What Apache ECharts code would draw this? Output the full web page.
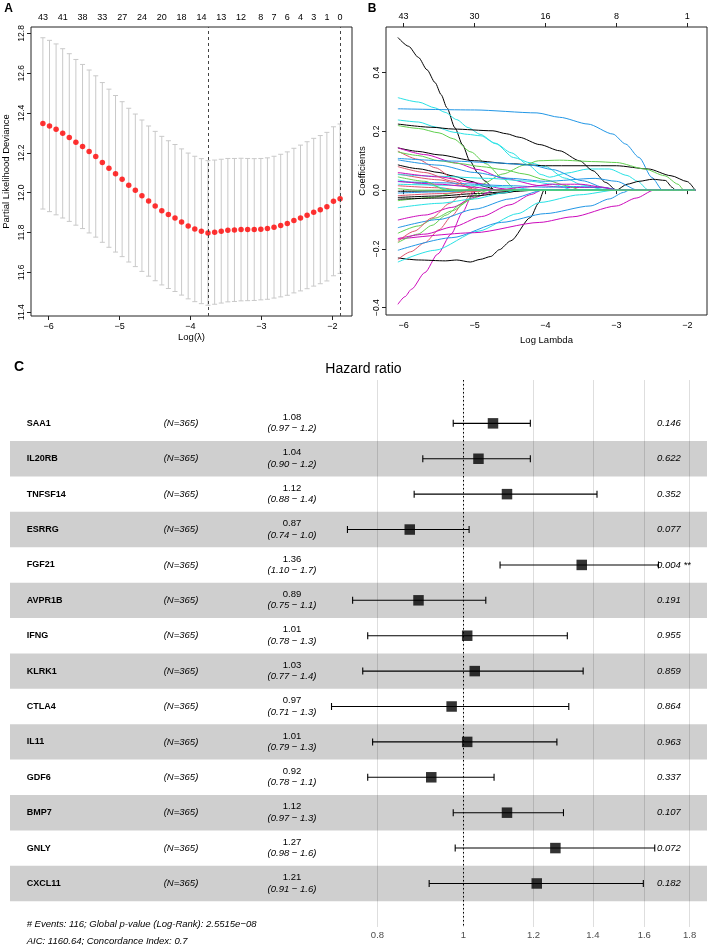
<!DOCTYPE html>
<html><head><meta charset="utf-8">
<script src="https://cdn.jsdelivr.net/npm/echarts@6/dist/echarts.min.js"></script>
<style>html,body{margin:0;padding:0;background:#fff}#c{width:709px;height:945px}</style>
</head><body><div id="c"></div><script>
// ---------- Panel A: cross-validation curve ----------
const cvLogLambda = [-6.080,-5.987,-5.894,-5.801,-5.708,-5.615,-5.521,-5.428,-5.335,-5.242,-5.149,-5.056,-4.963,-4.870,-4.777,-4.684,-4.590,-4.497,-4.404,-4.311,-4.218,-4.125,-4.032,-3.939,-3.846,-3.753,-3.659,-3.566,-3.473,-3.380,-3.287,-3.194,-3.101,-3.008,-2.915,-2.822,-2.728,-2.635,-2.542,-2.449,-2.356,-2.263,-2.170,-2.077,-1.984,-1.891];
const cvMean = [12.348,12.335,12.318,12.298,12.277,12.253,12.232,12.207,12.182,12.152,12.123,12.095,12.068,12.038,12.012,11.985,11.958,11.933,11.910,11.890,11.873,11.853,11.833,11.818,11.807,11.798,11.802,11.807,11.812,11.813,11.815,11.815,11.815,11.817,11.820,11.827,11.835,11.845,11.860,11.873,11.887,11.902,11.915,11.930,11.957,11.970];
const cvSE = [0.430,0.430,0.429,0.425,0.421,0.416,0.412,0.409,0.405,0.401,0.397,0.393,0.389,0.386,0.383,0.380,0.377,0.375,0.373,0.371,0.369,0.367,0.366,0.365,0.364,0.363,0.362,0.361,0.360,0.359,0.358,0.357,0.356,0.355,0.355,0.356,0.358,0.360,0.363,0.366,0.369,0.371,0.372,0.373,0.374,0.375];
const cvTopIdx = [0,3,6,9,12,15,18,21,24,27,30,33,35,37,39,41,43,45];
const cvTopLabels = ['43','41','38','33','27','24','20','18','14','13','12','8','7','6','4','3','1','0'];
const lambdaMinLog = -3.753;
const lambda1seLog = -1.891;
const aYTicks = [11.4,11.6,11.8,12.0,12.2,12.4,12.6,12.8];
const xTicksAB = [-6,-5,-4,-3,-2];

// ---------- Panel B: coefficient paths ----------
const bTopLabels = ['43','30','16','8','1'];
const bYTicks = [-0.4,-0.2,0,0.2,0.4];
const K='#000000',R='#DF536B',G='#61D04F',BL='#2297E6',CY='#28E2E5',M='#CD0BBC';
const coefColors = [K,CY,BL,CY,K,K,G,K,K,G,K, M,R,G,BL,BL,R,CY,M,BL,CY,R,R, M,K,CY,R,BL,M,M,G,G,M,BL,R,R,K,CY,G,BL,M,CY,G];
const coefPaths = [
 [[-6.08,.52],[-5.93,.49],[-5.79,.452],[-5.67,.41],[-5.555,.366],[-5.47,.325],[-5.39,.281],[-5.275,.212],[-5.17,.155],[-5.065,.099],[-4.95,.058],[-4.854,.031],[-4.714,0]],
 [[-6.08,.315],[-5.79,.30],[-5.555,.28],[-5.415,.265],[-5.25,.24],[-5.09,.213],[-4.92,.19],[-4.71,.16],[-4.48,.127],[-4.25,.087],[-4.06,.053],[-3.94,.044],[-3.7,.058],[-3.4,.072],[-3.1,.072],[-2.85,.05],[-2.7,.03],[-2.55,0]],
 [[-6.08,.277],[-5.0,.273],[-4.12,.263],[-3.8,.248],[-3.4,.225],[-3.05,.191],[-2.87,.157],[-2.68,.111],[-2.5,.043],[-2.35,0]],
 [[-6.08,.239],[-5.79,.232],[-5.55,.215],[-5.29,.197],[-5.1,.19],[-4.91,.185],[-4.7,.158],[-4.45,.111],[-4.2,.092],[-4.0,.08],[-3.73,.041],[-3.47,.017],[-3.2,.003],[-3.0,0]],
 [[-6.08,.225],[-5.6,.214],[-5.3,.208],[-4.74,.202],[-4.55,.192],[-4.37,.18],[-4.08,.155],[-3.8,.134],[-3.52,.10],[-3.33,.066],[-3.15,.026],[-3.0,0]],
 [[-6.08,-.004],[-5.0,-.002],[-4.7,0],[-3.0,0],[-2.85,.02],[-2.68,.03],[-2.49,.037],[-2.31,.033],[-2.21,.009],[-2.17,0]],
 [[-6.08,.22],[-5.79,.21],[-5.5,.195],[-5.3,.175],[-5.05,.13],[-4.84,.09],[-4.6,.04],[-4.45,.008],[-4.4,0]],
 [[-6.08,.144],[-5.8,.132],[-5.5,.12],[-5.0,.10],[-4.5,.09],[-4.0,.083],[-3.0,.083],[-2.55,.072],[-2.23,.049],[-2.0,.029],[-1.891,0]],
 [[-6.08,.086],[-5.8,.073],[-5.5,.06],[-5.3,.048],[-5.05,.03],[-4.85,.012],[-4.69,0]],
 [[-6.08,-.036],[-5.6,-.025],[-5.2,-.005],[-4.9,.02],[-4.6,.055],[-4.3,.085],[-4.1,.1],[-3.8,.102],[-3.3,.097],[-3.0,.094],[-2.6,.072],[-2.32,.049],[-2.13,.02],[-2.05,0]],
 [[-6.08,-.025],[-5.5,-.02],[-5.0,-.012],[-4.5,-.005],[-4.1,0]],
 [[-6.08,.144],[-5.7,.121],[-5.27,.093],[-4.95,.07],[-4.59,.04],[-4.07,.015],[-3.7,.009],[-3.19,.009],[-2.95,0]],
 [[-6.08,.133],[-5.8,.105],[-5.55,.076],[-5.3,.04],[-5.13,.019],[-5.0,0]],
 [[-6.08,.13],[-5.8,.118],[-5.5,.1],[-5.2,.09],[-4.9,.08],[-4.6,.07],[-4.3,.055],[-4.0,.035],[-3.7,.015],[-3.5,0]],
 [[-6.08,.108],[-5.32,.099],[-4.71,.093],[-4.2,.085],[-3.9,.07],[-3.48,.032],[-3.15,.007],[-3.0,0]],
 [[-6.08,.103],[-5.5,.085],[-5.0,.06],[-4.5,.04],[-4.0,.03],[-3.3,.04],[-3.0,.03],[-2.7,0]],
 [[-6.08,.055],[-5.5,.035],[-5.1,.012],[-4.9,0]],
 [[-6.08,.053],[-5.5,.047],[-4.8,.04],[-4.2,.03],[-3.9,.02],[-3.6,0]],
 [[-6.08,.06],[-5.5,.045],[-5.0,.025],[-4.6,.005],[-4.5,0]],
 [[-6.08,.029],[-5.5,.025],[-4.5,.015],[-4.0,.01],[-3.6,.012],[-3.2,.01],[-2.95,0]],
 [[-6.08,.02],[-5.0,.015],[-4.5,.01],[-4.1,0]],
 [[-6.08,.015],[-5.5,.008],[-5.2,0]],
 [[-6.08,.08],[-5.7,.06],[-5.3,.03],[-5.0,0]],
 [[-6.08,-.389],[-5.98,-.363],[-5.89,-.338],[-5.7,-.281],[-5.52,-.218],[-5.33,-.15],[-5.17,-.076],[-5.03,-.014],[-4.98,0]],
 [[-6.08,-.231],[-5.79,-.238],[-5.41,-.241],[-5.25,-.238],[-5.06,-.245],[-4.92,-.236],[-4.77,-.226],[-4.65,-.203],[-4.49,-.173],[-4.21,-.093],[-4.1,-.045],[-4.02,0]],
 [[-6.08,-.245],[-5.56,-.205],[-4.95,-.14],[-4.39,-.08],[-4.08,-.042],[-3.52,-.016],[-3.0,0]],
 [[-6.08,-.236],[-5.9,-.21],[-5.7,-.179],[-5.5,-.135],[-5.32,-.088],[-5.15,-.04],[-5.04,-.008],[-4.98,0]],
 [[-6.08,-.205],[-5.32,-.162],[-4.62,-.11],[-4.0,-.08],[-3.37,-.054],[-3.1,-.03],[-2.9,-.008],[-2.82,0]],
 [[-6.08,-.167],[-5.0,-.145],[-4.08,-.11],[-3.62,-.091],[-3.0,-.054],[-2.72,-.027],[-2.47,0]],
 [[-6.08,-.102],[-5.7,-.085],[-5.32,-.059],[-5.0,-.025],[-4.71,0]],
 [[-6.08,-.147],[-5.79,-.122],[-5.55,-.095],[-5.32,-.071],[-5.04,-.031],[-4.85,-.003],[-4.8,0]],
 [[-6.08,-.179],[-5.8,-.15],[-5.6,-.12],[-5.4,-.085],[-5.2,-.05],[-5.0,-.018],[-4.9,0]],
 [[-6.08,-.165],[-5.7,-.15],[-5.3,-.125],[-4.9,-.09],[-4.5,-.05],[-4.2,-.015],[-4.05,0]],
 [[-6.08,-.128],[-5.5,-.1],[-5.0,-.065],[-4.5,-.03],[-4.02,0]],
 [[-6.08,-.019],[-5.5,-.012],[-5.0,-.005],[-4.8,0]],
 [[-6.08,-.175],[-5.85,-.14],[-5.6,-.095],[-5.35,-.045],[-5.15,-.008],[-5.1,0]],
 [[-6.08,-.031],[-5.5,-.027],[-5.0,-.02],[-4.6,-.01],[-4.3,0]],
 [[-6.08,.035],[-5.7,.02],[-5.3,0]],
 [[-6.08,.005],[-5.8,0]],
 [[-6.08,-.01],[-5.5,-.006],[-5.0,0]],
 [[-6.08,.03],[-5.5,.02],[-5.0,.01],[-4.7,0],[-4.3,.01],[-3.9,.02],[-3.5,.02],[-3.2,.01],[-3.0,0]],
 [[-6.08,-.06],[-5.5,-.045],[-5.0,-.03],[-4.6,-.01],[-4.4,0]],
 [[-6.08,.045],[-5.7,.03],[-5.4,0]]
];

// ---------- Panel C: forest plot ----------
const genes = ['SAA1','IL20RB','TNFSF14','ESRRG','FGF21','AVPR1B','IFNG','KLRK1','CTLA4','IL11','GDF6','BMP7','GNLY','CXCL11'];
const nText = ['(N=365)','(N=365)','(N=365)','(N=365)','(N=365)','(N=365)','(N=365)','(N=365)','(N=365)','(N=365)','(N=365)','(N=365)','(N=365)','(N=365)'];
const hr = [1.08,1.04,1.12,0.87,1.36,0.89,1.01,1.03,0.97,1.01,0.92,1.12,1.27,1.21];
const hrLow = [0.974,0.90,0.88,0.74,1.10,0.75,0.78,0.77,0.71,0.79,0.78,0.974,0.979,0.915];
const hrHigh = [1.19,1.19,1.415,1.015,1.66,1.06,1.31,1.365,1.315,1.275,1.083,1.297,1.644,1.596];
const hrText = ['1.08','1.04','1.12','0.87','1.36','0.89','1.01','1.03','0.97','1.01','0.92','1.12','1.27','1.21'];
const ciText = ['(0.97 − 1.2)','(0.90 − 1.2)','(0.88 − 1.4)','(0.74 − 1.0)','(1.10 − 1.7)','(0.75 − 1.1)','(0.78 − 1.3)','(0.77 − 1.4)','(0.71 − 1.3)','(0.79 − 1.3)','(0.78 − 1.1)','(0.97 − 1.3)','(0.98 − 1.6)','(0.91 − 1.6)'];
const pText = ['0.146','0.622','0.352','0.077','0.004 **','0.191','0.955','0.859','0.864','0.963','0.337','0.107','0.072','0.182'];
const hrTicks = [0.8,1,1.2,1.4,1.6,1.8];
const footer1 = '# Events: 116; Global p-value (Log-Rank): 2.5515e\u221208';
const footer2 = 'AIC: 1160.64; Concordance Index: 0.7';

// ---------- layout / style ----------
const FONT = 'Liberation Sans, Arial, Helvetica, sans-serif';
const COL = {name: 26.7, n: 181, hr: 292, p: 657};
const minus = v => (v < 0 ? '\u2212' : '') + Math.abs(v);
const fmt1 = v => (v < 0 ? '\u2212' : '') + Math.abs(v).toFixed(1);
const ln = Math.log;

const chart = echarts.init(document.getElementById('c'), null, {renderer: 'canvas'});

const axisTxt = {fontSize: 9, color: '#000', fontFamily: FONT};
const nameTxt = {fontSize: 9.5, color: '#000', fontFamily: FONT};
const tickLine = {color: '#222', width: 1};

const bottomAxis = (grid, name, gap) => ({
  type: 'value', gridIndex: grid, min: -6.2476, max: -1.723, position: 'bottom',
  axisLine: {show: false},
  axisTick: {show: true, length: 4, customValues: xTicksAB, lineStyle: tickLine},
  axisLabel: Object.assign({customValues: xTicksAB, margin: 6, formatter: v => minus(v)}, axisTxt),
  splitLine: {show: false},
  name: name, nameLocation: 'middle', nameGap: gap, nameTextStyle: nameTxt
});

const xAxes = [
  bottomAxis(0, 'Log(\u03BB)', 16),
  { type: 'value', gridIndex: 0, min: -6.2476, max: -1.723, position: 'top',
    axisLine: {show: false}, axisTick: {show: false},
    axisLabel: Object.assign({customValues: cvTopIdx.map(i => cvLogLambda[i]), margin: 5,
      formatter: v => { const j = cvTopIdx.findIndex(i => Math.abs(cvLogLambda[i] - v) < 1e-6); return j >= 0 ? cvTopLabels[j] : ''; }}, axisTxt),
    splitLine: {show: false} },
  bottomAxis(1, 'Log Lambda', 20),
  { type: 'value', gridIndex: 1, min: -6.2476, max: -1.723, position: 'top',
    axisLine: {show: false},
    axisTick: {show: true, length: 4, customValues: xTicksAB, lineStyle: tickLine},
    axisLabel: Object.assign({customValues: xTicksAB, margin: 6,
      formatter: v => bTopLabels[xTicksAB.indexOf(v)]}, axisTxt),
    splitLine: {show: false} },
  { type: 'value', gridIndex: 2, min: ln(0.308), max: ln(1.883),
    axisLine: {show: false},
    axisTick: {show: false, customValues: hrTicks.map(ln)},
    axisLabel: {customValues: hrTicks.map(ln), margin: 3, fontSize: 9.5, color: '#4d4d4d', fontFamily: FONT,
      formatter: v => { const j = hrTicks.findIndex(t => Math.abs(ln(t) - v) < 1e-6); return j >= 0 ? String(hrTicks[j]) : ''; }},
    splitLine: {show: true, lineStyle: {color: '#dedede', width: 1}} }
];

const yAxes = [
  { type: 'value', gridIndex: 0, min: 11.381, max: 12.832,
    axisLine: {show: false},
    axisTick: {show: true, length: 4, customValues: aYTicks, lineStyle: tickLine},
    axisLabel: Object.assign({customValues: aYTicks, rotate: 90, margin: 5, formatter: v => v.toFixed(1)}, axisTxt, {fontSize: 8.5}),
    splitLine: {show: false},
    name: 'Partial Likelihood Deviance', nameLocation: 'middle', nameGap: 20, nameTextStyle: nameTxt },
  { type: 'value', gridIndex: 1, min: -0.4254, max: 0.5556,
    axisLine: {show: false},
    axisTick: {show: true, length: 4, customValues: bYTicks, lineStyle: tickLine},
    axisLabel: Object.assign({customValues: bYTicks, rotate: 90, margin: 5, formatter: fmt1}, axisTxt, {fontSize: 8.5}),
    splitLine: {show: false},
    name: 'Coefficients', nameLocation: 'middle', nameGap: 19, nameTextStyle: nameTxt },
  { type: 'value', gridIndex: 2, min: -1.225, max: 14.23, inverse: true, show: false }
];

const series = [];

// Panel A error bars
series.push({
  type: 'custom', xAxisIndex: 0, yAxisIndex: 0,
  data: cvLogLambda.map((x, i) => [x, cvMean[i] - cvSE[i], cvMean[i] + cvSE[i]]),
  renderItem: (params, api) => {
    const lo = api.coord([api.value(0), api.value(1)]);
    const hi = api.coord([api.value(0), api.value(2)]);
    const w = 2.5, st = {stroke: '#c9c9c9', lineWidth: 1};
    return {type: 'group', children: [
      {type: 'line', shape: {x1: lo[0], y1: lo[1], x2: hi[0], y2: hi[1]}, style: st},
      {type: 'line', shape: {x1: lo[0] - w, y1: lo[1], x2: lo[0] + w, y2: lo[1]}, style: st},
      {type: 'line', shape: {x1: hi[0] - w, y1: hi[1], x2: hi[0] + w, y2: hi[1]}, style: st}
    ]};
  }
});
// Panel A mean points + dashed lambda lines
series.push({
  type: 'scatter', xAxisIndex: 0, yAxisIndex: 0, symbol: 'circle', symbolSize: 5.5,
  itemStyle: {color: '#ff0000'},
  data: cvLogLambda.map((x, i) => [x, cvMean[i]]),
  markLine: {silent: true, symbol: 'none', label: {show: false},
    lineStyle: {type: [3, 3], color: '#444', width: 1},
    data: [{xAxis: lambdaMinLog}, {xAxis: lambda1seLog}]}
});

// Panel B coefficient paths
coefPaths.forEach((p, k) => {
  const pts = p.slice();
  if (pts[pts.length - 1][0] < lambda1seLog) pts.push([lambda1seLog, 0]);
  series.push({
    type: 'line', xAxisIndex: 2, yAxisIndex: 1, data: pts, showSymbol: false, symbol: 'none',
    smooth: 0.25, smoothMonotone: 'x', clip: true,
    lineStyle: {color: coefColors[k], width: 1}
  });
});

// Panel C bands
const xMinC = ln(0.308), xMaxC = ln(1.883);
series.push({
  type: 'custom', xAxisIndex: 4, yAxisIndex: 2,
  data: genes.map((g, i) => [i]).filter(d => d[0] % 2 === 1),
  renderItem: (params, api) => {
    const i = api.value(0);
    const a = api.coord([xMinC, i - 0.5]), b = api.coord([xMaxC, i + 0.5]);
    return {type: 'rect', shape: {x: a[0], y: a[1], width: b[0] - a[0], height: b[1] - a[1]},
      style: {fill: 'rgba(0,0,0,0.19)'}};
  }
});
// Panel C CI whiskers
series.push({
  type: 'custom', xAxisIndex: 4, yAxisIndex: 2,
  data: genes.map((g, i) => [ln(hrLow[i]), ln(hrHigh[i]), i]),
  renderItem: (params, api) => {
    const y = api.value(2);
    const p1 = api.coord([api.value(0), y]), p2 = api.coord([api.value(1), y]);
    const h = 3.5, st = {stroke: '#000', lineWidth: 1.1};
    return {type: 'group', children: [
      {type: 'line', shape: {x1: p1[0], y1: p1[1], x2: p2[0], y2: p2[1]}, style: st},
      {type: 'line', shape: {x1: p1[0], y1: p1[1] - h, x2: p1[0], y2: p1[1] + h}, style: st},
      {type: 'line', shape: {x1: p2[0], y1: p2[1] - h, x2: p2[0], y2: p2[1] + h}, style: st}
    ]};
  }
});
// Panel C squares + reference line
series.push({
  type: 'scatter', xAxisIndex: 4, yAxisIndex: 2, symbol: 'rect', symbolSize: 10.5,
  itemStyle: {color: '#000'},
  data: genes.map((g, i) => [ln(hr[i]), i]),
  markLine: {silent: true, symbol: 'none', label: {show: false},
    lineStyle: {type: [1.5, 2.5], color: '#000', width: 1},
    data: [{xAxis: 0}]}
});
// Panel C row texts
series.push({
  type: 'custom', xAxisIndex: 4, yAxisIndex: 2,
  data: genes.map((g, i) => [0, i]),
  renderItem: (params, api) => {
    const i = params.dataIndex;
    const y = api.coord([0, api.value(1)])[1];
    const base = {fontFamily: FONT, fill: '#000', verticalAlign: 'middle'};
    return {type: 'group', children: [
      {type: 'text', style: Object.assign({}, base, {x: COL.name, y: y, text: genes[i], fontSize: 9, fontWeight: 'bold', align: 'left'})},
      {type: 'text', style: Object.assign({}, base, {x: COL.n, y: y, text: nText[i], fontSize: 9.5, fontStyle: 'italic', align: 'center'})},
      {type: 'text', style: Object.assign({}, base, {x: COL.hr, y: y - 6, text: hrText[i], fontSize: 9.5, align: 'center'})},
      {type: 'text', style: Object.assign({}, base, {x: COL.hr, y: y + 5.5, text: ciText[i], fontSize: 9.5, fontStyle: 'italic', align: 'center'})},
      {type: 'text', style: Object.assign({}, base, {x: COL.p, y: y, text: pText[i], fontSize: 9.5, fontStyle: 'italic', align: 'left'})}
    ]};
  }
});

const txt = (x, y, text, extra) => ({type: 'text', x: x, y: y, silent: true,
  style: Object.assign({text: text, fontFamily: FONT, fill: '#000', align: 'center', verticalAlign: 'middle'}, extra)});

chart.setOption({
  animation: false,
  backgroundColor: '#fff',
  grid: [
    {left: 30, top: 27, width: 322, height: 289, show: true, borderColor: '#222', borderWidth: 1, backgroundColor: 'transparent'},
    {left: 386, top: 27, width: 321, height: 288, show: true, borderColor: '#222', borderWidth: 1, backgroundColor: 'transparent'},
    {left: 10, top: 380, width: 697, height: 547}
  ],
  xAxis: xAxes,
  yAxis: yAxes,
  series: series,
  graphic: [
    txt(8.5, 9, 'A', {fontSize: 12, fontWeight: 'bold'}),
    txt(372, 9, 'B', {fontSize: 12, fontWeight: 'bold'}),
    txt(19, 367, 'C', {fontSize: 14, fontWeight: 'bold'}),
    txt(363.5, 369, 'Hazard ratio', {fontSize: 14}),
    txt(26.7, 924, footer1, {fontSize: 9.5, fontStyle: 'italic', align: 'left'}),
    txt(26.7, 941, footer2, {fontSize: 9.5, fontStyle: 'italic', align: 'left'})
  ]
});
</script></body></html>
